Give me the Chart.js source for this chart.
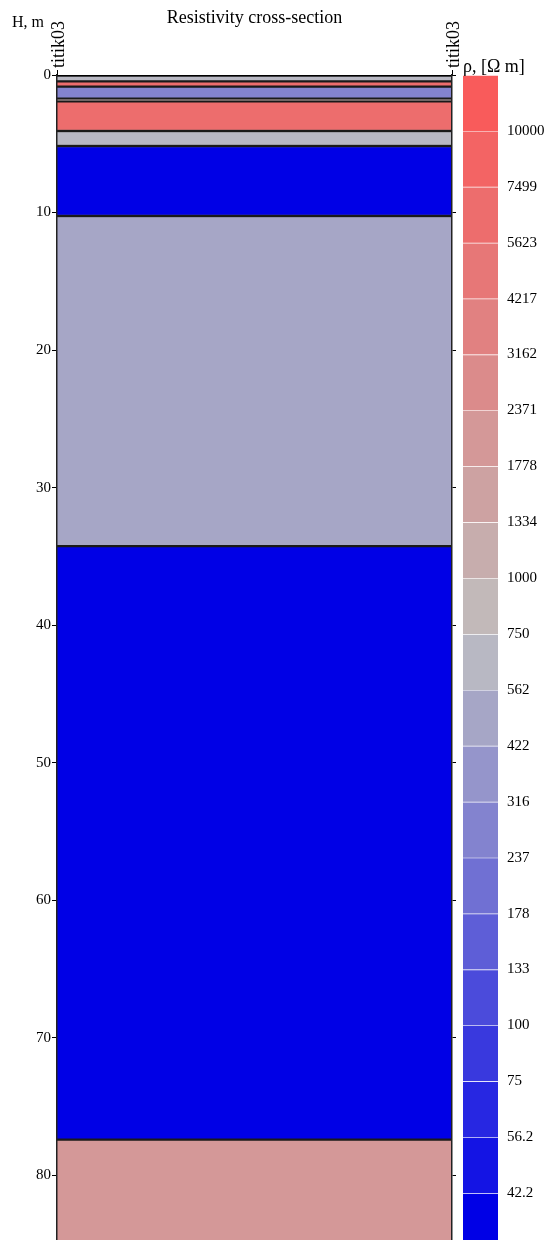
<!DOCTYPE html>
<html>
<head>
<meta charset="utf-8">
<script src="https://cdn.jsdelivr.net/npm/chart.js@4.4.0/dist/chart.umd.min.js"></script>
<style>
html, body { margin: 0; padding: 0; background: #fff; overflow: hidden; }
#wrap { position: relative; width: 547px; height: 1240px; overflow: hidden; }
#section-box { position: absolute; left: 0; top: 0; width: 547px; height: 1258px; }
#scale-box { position: absolute; left: 455px; top: 0; width: 92px; height: 1249px; }
</style>
</head>
<body>
<div id="wrap">
    <div id="section-box"><canvas id="section"></canvas></div>
    <div id="scale-box"><canvas id="rhoScale"></canvas></div>
</div>
<script>
// well names (top of section)
const wellNames = ['titik03', 'titik03'];

// layers: top / bottom depth (m) and resistivity (Ohm m)
const layerTop    = [0,    0.46, 0.84, 1.72, 1.91, 4.07, 5.16, 10.25, 34.25, 77.4];
const layerBottom = [0.46, 0.84, 1.72, 1.91, 4.07, 5.16, 10.25, 34.25, 77.4, 90];
const layerRho    = [650,  6500, 280,  1500, 6500, 650,  35,   480,   30,    2000];

// depth axis ticks
const depthTicks = [0, 10, 20, 30, 40, 50, 60, 70, 80];

// colour scale: class edges and colours (top -> bottom)
const rhoEdges = [10000, 7499, 5623, 4217, 3162, 2371, 1778, 1334, 1000, 750,
                  562, 422, 316, 237, 178, 133, 100, 75, 56.2, 42.2];
const rhoColors = ['#f95b5b', '#f36464', '#ed6d6d', '#e77777', '#e18181', '#db8b8b',
                   '#d49898', '#cda2a2', '#c7adad', '#c2b9b9', '#b8b8c3', '#a6a6c6',
                   '#9595cb', '#8383cf', '#7070d3', '#5e5ed7', '#4b4bdb', '#3939de',
                   '#2727e2', '#1414e4', '#0000e6'];

const serifFamily = '"Liberation Serif", "Times New Roman", serif';
const tickFont = { family: serifFamily, size: 15 };
const wellFont = { family: serifFamily, size: 18 };

function rhoColor(rho) {
    for (let i = 0; i < rhoEdges.length; i++) {
        if (rho >= rhoEdges[i]) return rhoColors[i];
    }
    return rhoColors[rhoColors.length - 1];
}

// fixed axis sizes, no extra label padding
function fixSize(prop, px) {
    return s => {
        s[prop] = px;
        s.paddingTop = s.paddingBottom = s.paddingLeft = s.paddingRight = 0;
    };
}

Chart.defaults.font.family = serifFamily;
Chart.defaults.color = '#000';

const sectionText = {
    id: 'sectionText',
    afterDraw(chart) {
        const ctx = chart.ctx;
        const area = chart.chartArea;
        ctx.save();
        ctx.fillStyle = '#000';
        ctx.textBaseline = 'alphabetic';
        ctx.textAlign = 'center';
        ctx.font = '18px ' + serifFamily;
        ctx.fillText('Resistivity cross-section', (area.left + area.right) / 2, 23);
        ctx.textAlign = 'left';
        ctx.font = '16px ' + serifFamily;
        ctx.fillText('H, m', 12, 27);
        ctx.restore();
    }
};

new Chart(document.getElementById('section'), {
    type: 'bar',
    data: {
        labels: ['titik03'],
        datasets: layerTop.map((t, i) => ({
            data: [[t, layerBottom[i]]],
            backgroundColor: rhoColor(layerRho[i]),
            borderColor: '#1a1a1a',
            borderWidth: { top: 1.5, bottom: 1.5, left: 0, right: 0 },
            borderSkipped: false,
            grouped: false,
            barPercentage: 1,
            categoryPercentage: 1
        }))
    },
    options: {
        responsive: true,
        maintainAspectRatio: false,
        animation: false,
        layout: { padding: { left: 0, right: 547 - 452 - 8, top: 0, bottom: 0 } },
        plugins: { legend: { display: false }, tooltip: { enabled: false } },
        scales: {
            x: { type: 'category', display: false },
            xTop: {
                type: 'category', position: 'top', labels: wellNames, offset: false,
                ticks: {
                    autoSkip: false, minRotation: 90, maxRotation: 90, padding: 2,
                    labelOffset: 24, font: wellFont, color: '#000'
                },
                grid: { drawOnChartArea: false, offset: false, tickLength: 5, color: '#000' },
                border: { color: '#000', z: 1 },
                afterFit: fixSize('height', 75)
            },
            y: {
                position: 'left', reverse: true, min: 0, max: 86,
                afterBuildTicks: s => { s.ticks = depthTicks.map(v => ({ value: v })); },
                ticks: { font: tickFont, color: '#000', padding: 1 },
                grid: { drawOnChartArea: false, tickLength: 5, color: '#000' },
                border: { color: '#222', width: 1.5, z: 1 },
                afterFit: fixSize('width', 57)
            },
            y2: {
                position: 'right', reverse: true, min: 0, max: 86,
                afterBuildTicks: s => { s.ticks = depthTicks.map(v => ({ value: v })); },
                ticks: { callback: () => '' },
                grid: { drawOnChartArea: false, tickLength: 4, color: '#000' },
                border: { color: '#222', width: 1.5, z: 1 },
                afterFit: fixSize('width', 8)
            }
        }
    },
    plugins: [sectionText]
});

const scaleText = {
    id: 'scaleText',
    afterDraw(chart) {
        const ctx = chart.ctx;
        ctx.save();
        ctx.font = '18px ' + serifFamily;
        ctx.fillStyle = '#000';
        ctx.textAlign = 'left';
        ctx.textBaseline = 'alphabetic';
        ctx.fillText('ρ, [Ω m]', chart.chartArea.left, 72);
        ctx.restore();
    }
};

new Chart(document.getElementById('rhoScale'), {
    type: 'bar',
    data: {
        labels: ['rho'],
        datasets: rhoColors.map((c, i) => ({
            data: [[i, i + 1]],
            backgroundColor: c,
            borderColor: '#fff',
            borderWidth: { top: 1, bottom: 0, left: 0, right: 0 },
            borderSkipped: false,
            grouped: false,
            barPercentage: 1,
            categoryPercentage: 1
        }))
    },
    options: {
        responsive: true,
        maintainAspectRatio: false,
        animation: false,
        layout: { padding: { left: 8, right: 0, top: 75, bottom: 0 } },
        plugins: { legend: { display: false }, tooltip: { enabled: false } },
        scales: {
            x: { type: 'category', display: false },
            y: {
                position: 'right', reverse: true, min: 0, max: 21,
                afterBuildTicks: s => { s.ticks = rhoEdges.map((v, i) => ({ value: i + 1 })); },
                ticks: { font: tickFont, color: '#000', padding: 9, callback: v => String(rhoEdges[v - 1]) },
                grid: { display: false, drawTicks: false },
                border: { display: false },
                afterFit: fixSize('width', 49)
            }
        }
    },
    plugins: [scaleText]
});
</script>
</body>
</html>
